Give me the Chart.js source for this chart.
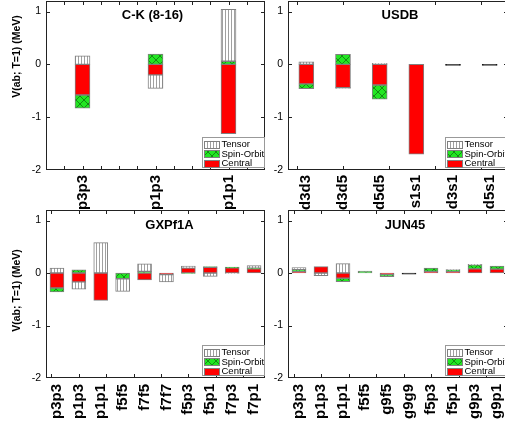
<!DOCTYPE html>
<html>
<head>
<meta charset="utf-8">
<script src="https://cdn.jsdelivr.net/npm/chart.js@4.4.1/dist/chart.umd.min.js"></script>
<style>
  html, body { margin: 0; padding: 0; background: #fff; width: 505px; height: 427px; overflow: hidden; }
  canvas { position: absolute; }
</style>
</head>
<body>
<canvas id="ck" style="left:0;top:0" width="270" height="210"></canvas>
<canvas id="usdb" style="left:270px;top:0" width="250" height="210"></canvas>
<canvas id="gx" style="left:0;top:209px" width="270" height="218"></canvas>
<canvas id="jun" style="left:270px;top:209px" width="250" height="218"></canvas>
<script>
// datos (MeV)
const yTicks = [-2, -1, 0, 1];

const ckLabels = ['p3p3', 'p1p3', 'p1p1'];
const ckCentral = [-0.58, -0.20, -1.31];
const ckSpinOrbit = [-0.25, 0.195, 0.06];
const ckTensor = [0.16, -0.255, 0.98];

const usdbLabels = ['d3d3', 'd3d5', 'd5d5', 's1s1', 'd3s1', 'd5s1'];
const usdbCentral = [-0.37, -0.44, -0.39, -1.70, -0.02, -0.02];
const usdbSpinOrbit = [-0.09, 0.19, -0.27, 0, 0, 0];
const usdbTensor = [0.05, -0.015, 0.02, 0, 0, 0];

const gxLabels = ['p3p3', 'p1p3', 'p1p1', 'f5f5', 'f7f5', 'f7f7', 'f5p3', 'f5p1', 'f7p3', 'f7p1'];
const gxCentral = [-0.285, -0.17, -0.52, 0, -0.13, -0.03, 0.095, 0.11, 0.10, 0.08];
const gxSpinOrbit = [-0.075, 0.06, 0, -0.11, 0.03, 0, -0.01, 0.01, 0.015, 0.01];
const gxTensor = [0.095, -0.14, 0.58, -0.24, 0.145, -0.14, 0.035, -0.065, -0.01, 0.05];

const junLabels = ['p3p3', 'p1p3', 'p1p1', 'f5f5', 'g9f5', 'g9g9', 'f5p3', 'f5p1', 'g9p3', 'g9p1'];
const junCentral = [0.03, 0.12, -0.10, 0, -0.03, -0.02, 0.03, 0.03, 0.08, 0.075];
const junSpinOrbit = [0.04, 0, -0.065, 0.035, -0.04, 0, 0.065, 0.03, 0.075, 0.055];
const junTensor = [0.035, -0.05, 0.18, 0, 0, 0, 0, 0.005, 0.01, 0];

const FONT = "'Liberation Sans', Arial, sans-serif";
const RED = '#ff0000';
const EDGE = '#808080';
const DASH = '#1a1a1a';

// patrones de relleno estilo Origin
function makeTensorPattern() {
  const c = document.createElement('canvas');
  c.width = 3; c.height = 3;
  const g = c.getContext('2d');
  g.fillStyle = '#ffffff';
  g.fillRect(0, 0, 3, 3);
  g.fillStyle = '#a0a0a0';
  g.fillRect(0, 0, 1, 3);
  return g.createPattern(c, 'repeat');
}

function makeCrossPattern() {
  const n = 8;
  const c = document.createElement('canvas');
  c.width = n; c.height = n;
  const g = c.getContext('2d');
  g.fillStyle = '#22e622';
  g.fillRect(0, 0, n, n);
  g.strokeStyle = '#148a14';
  g.lineWidth = 1;
  g.beginPath();
  g.moveTo(0, 0); g.lineTo(n, n);
  g.moveTo(n, 0); g.lineTo(0, n);
  g.stroke();
  return g.createPattern(c, 'repeat');
}

const tensorFill = makeTensorPattern();
const crossFill = makeCrossPattern();

// barras casi nulas (distintas de cero) se ven como un trazo oscuro
const isTiny = c => c.raw !== 0 && Math.abs(c.raw) < 0.025;

/**
 * Marco, ticks hacia dentro, titulo del panel, titulo del eje y y leyenda
 */
const panelDecor = {
  id: 'panelDecor',
  afterDatasetsDraw(chart, args, opts) {
    const {ctx, chartArea: a, scales: {x, y}} = chart;
    ctx.save();
    ctx.strokeStyle = '#222';
    ctx.lineWidth = 1;
    ctx.strokeRect(a.left + 0.5, a.top + 0.5, a.right - a.left - 1, a.bottom - a.top - 1);

    // ticks del eje y (izquierda y derecha)
    ctx.beginPath();
    yTicks.forEach(v => {
      const py = Math.round(y.getPixelForValue(v)) + 0.5;
      if (py < a.top + 2 || py > a.bottom - 2) return;
      ctx.moveTo(a.left, py); ctx.lineTo(a.left + 4, py);
      ctx.moveTo(a.right, py); ctx.lineTo(a.right - 4, py);
    });
    // ticks del eje x (abajo y arriba)
    const n = chart.data.labels.length;
    for (let v = opts.xTickStart; v < n - 0.5; v += opts.xTickStep) {
      const px = Math.round(x.getPixelForValue(v)) + 0.5;
      if (px <= a.left + 1 || px >= a.right - 1) continue;
      ctx.moveTo(px, a.bottom); ctx.lineTo(px, a.bottom - 4);
      ctx.moveTo(px, a.top); ctx.lineTo(px, a.top + 4);
    }
    ctx.stroke();

    // titulo del panel
    ctx.fillStyle = '#000';
    ctx.font = 'bold 13px ' + FONT;
    ctx.textAlign = 'center';
    ctx.textBaseline = 'middle';
    ctx.fillText(opts.title, (a.left + a.right) / 2 + opts.titleDx, a.top + opts.titleDy);

    // titulo del eje y
    if (opts.yTitle) {
      ctx.save();
      ctx.translate(opts.yTitleX, opts.yTitleY);
      ctx.rotate(-Math.PI / 2);
      ctx.font = 'bold 10.5px ' + FONT;
      ctx.fillText(opts.yTitle, 0, 0);
      ctx.restore();
    }

    // leyenda dentro del area, abajo a la derecha
    const bw = 62, bh = 30;
    const bx = Math.round(a.right - 1 - bw) + 0.5;
    const by = Math.round(a.bottom - 3 - bh) + 0.5;
    ctx.fillStyle = '#fff';
    ctx.fillRect(bx, by, bw, bh);
    ctx.strokeStyle = '#999';
    ctx.strokeRect(bx, by, bw, bh);
    ctx.font = '9.5px ' + FONT;
    ctx.textAlign = 'left';
    const rows = chart.data.datasets.slice().reverse();
    rows.forEach((ds, i) => {
      const cy = by + 6.5 + i * 9.5;
      ctx.fillStyle = ds.swatch;
      ctx.fillRect(bx + 2, Math.round(cy - 3.5), 15, 7);
      ctx.strokeStyle = EDGE;
      ctx.strokeRect(bx + 2, Math.round(cy - 3.5) + 0.5, 15, 7);
      ctx.fillStyle = '#000';
      ctx.fillText(ds.label, bx + 19, cy + 0.5);
    });
    ctx.restore();
  }
};

function makePanel(id, labels, central, spinOrbit, tensor, cfg) {
  const ctx = document.getElementById(id);
  if (!ctx) return;

  new Chart(ctx, {
    type: 'bar',
    data: {
      labels: labels,
      datasets: [
        {
          label: 'Central',
          data: central,
          swatch: RED,
          backgroundColor: c => isTiny(c) ? DASH : RED,
          borderColor: c => isTiny(c) ? DASH : EDGE
        },
        { label: 'Spin-Orbit', data: spinOrbit, swatch: crossFill, backgroundColor: crossFill, borderColor: EDGE },
        { label: 'Tensor', data: tensor, swatch: tensorFill, backgroundColor: tensorFill, borderColor: EDGE }
      ]
    },
    options: {
      responsive: false,
      animation: false,
      layout: { padding: cfg.padding, autoPadding: false },
      datasets: {
        bar: { barThickness: cfg.barWidth, borderWidth: 1, borderSkipped: false }
      },
      plugins: {
        legend: { display: false },
        tooltip: { enabled: false },
        panelDecor: cfg.decor
      },
      scales: {
        x: {
          stacked: true,
          grid: { display: false, drawTicks: false },
          border: { display: false },
          ticks: {
            autoSkip: false,
            maxRotation: 90,
            minRotation: 90,
            padding: cfg.xPad,
            color: '#000',
            font: { family: FONT, size: 15, weight: 'bold' }
          },
          afterFit: s => { s.height = cfg.xHeight; s.paddingLeft = 0; s.paddingRight = 0; }
        },
        y: {
          stacked: true,
          min: -2,
          max: 1.2,
          grid: { display: false, drawTicks: false },
          border: { display: false },
          ticks: {
            stepSize: 1,
            includeBounds: false,
            padding: 5,
            color: '#000',
            font: { family: FONT, size: 10.5 }
          },
          afterFit: s => { s.width = cfg.yWidth; s.paddingTop = 0; s.paddingBottom = 0; }
        }
      }
    },
    plugins: [panelDecor]
  });
}

const yTitleText = 'V(ab; T=1) (MeV)';

makePanel('ck', ckLabels, ckCentral, ckSpinOrbit, ckTensor, {
  padding: { left: 0, top: 1, right: 5, bottom: 0 },
  yWidth: 46, xHeight: 40, xPad: 5, barWidth: 15,
  decor: { title: 'C-K (8-16)', titleDx: -3, titleDy: 14, xTickStart: -0.25, xTickStep: 0.25,
           yTitle: yTitleText, yTitleX: 17.5, yTitleY: 56.5 }
});

makePanel('usdb', usdbLabels, usdbCentral, usdbSpinOrbit, usdbTensor, {
  padding: { left: 0, top: 1, right: 12, bottom: 0 },
  yWidth: 18, xHeight: 40, xPad: 5, barWidth: 15,
  decor: { title: 'USDB', titleDx: 2, titleDy: 14, xTickStart: -0.25, xTickStep: 1.25 }
});

makePanel('gx', gxLabels, gxCentral, gxSpinOrbit, gxTensor, {
  padding: { left: 0, top: 1, right: 5, bottom: 0 },
  yWidth: 46, xHeight: 49, xPad: 6, barWidth: 14,
  decor: { title: 'GXPf1A', titleDx: 14, titleDy: 15, xTickStart: -0.25, xTickStep: 1.25,
           yTitle: yTitleText, yTitleX: 17.5, yTitleY: 81.5 }
});

makePanel('jun', junLabels, junCentral, junSpinOrbit, junTensor, {
  padding: { left: 0, top: 1, right: 12, bottom: 0 },
  yWidth: 18, xHeight: 49, xPad: 6, barWidth: 14,
  decor: { title: 'JUN45', titleDx: 7, titleDy: 15, xTickStart: -0.25, xTickStep: 1.25 }
});
</script>
</body>
</html>
